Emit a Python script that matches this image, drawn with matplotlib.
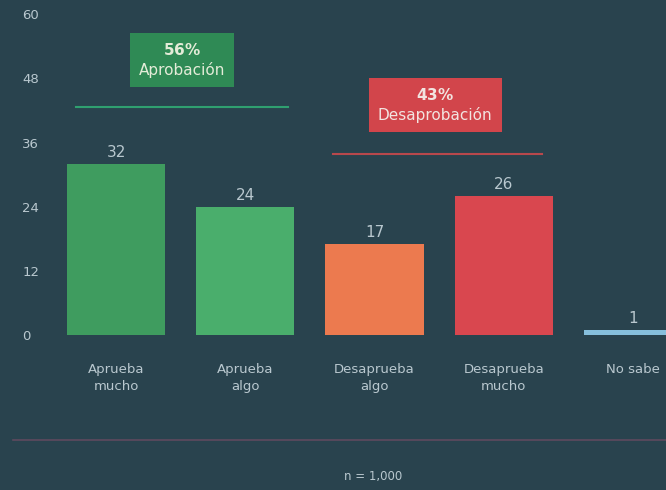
import matplotlib.pyplot as plt

categories = ['Aprueba\nmucho', 'Aprueba\nalgo', 'Desaprueba\nalgo', 'Desaprueba\nmucho', 'No sabe']
values = [32, 24, 17, 26, 1]
y_ticks = [0, 12, 24, 36, 48, 60]
approve_pct = 56
disapprove_pct = 43
approve_text = 'Aprobación'
disapprove_text = 'Desaprobación'
sample_note = 'n = 1,000'

bg = '#29434e'
text_col = '#b9c8cf'
bar_colors = ['#3f9c5f', '#4aae6c', '#ec7a4f', '#d9474f', '#86bfdc']

fig = plt.figure(figsize=(6.66, 4.9), dpi=100, facecolor=bg)
ax = fig.add_axes([0.075, 0.316, 0.925, 0.655])
ax.set_facecolor(bg)

x = list(range(len(categories)))
ax.bar(x, values, width=0.76, color=bar_colors)
for xi, v in zip(x, values):
    ax.text(xi, v + 0.8, str(v), ha='center', va='bottom', color=text_col, fontsize=11)

ax.set_xlim(-0.512, 4.256)
ax.set_ylim(0, 60)
ax.set_yticks(y_ticks)
ax.set_xticks(x)
ax.set_xticklabels(categories, color=text_col, fontsize=9.5, linespacing=1.4)
ax.tick_params(axis='x', length=0, pad=20)
ax.tick_params(axis='y', length=0, colors=text_col, labelsize=9.5, pad=0)
for lbl in ax.get_yticklabels():
    lbl.set_horizontalalignment('left')
    lbl.set_x(-0.045)
for s in ax.spines.values():
    s.set_visible(False)

# group summary boxes and underlines
ax.text(0.51, 51.4, f'$\\mathbf{{{approve_pct}\\%}}$\n{approve_text}', ha='center', va='center',
        color='#e4ecd8', fontsize=11, linespacing=1.3,
        bbox=dict(boxstyle='square,pad=0.6', fc='#2f8a55', ec='none'))
ax.plot([-0.31, 1.33], [42.6, 42.6], color='#2fa070', lw=1.5)
ax.text(2.47, 43.0, f'$\\mathbf{{{disapprove_pct}\\%}}$\n{disapprove_text}', ha='center', va='center',
        color='#f2e4e0', fontsize=11, linespacing=1.3,
        bbox=dict(boxstyle='square,pad=0.6', fc='#d2454b', ec='none'))
ax.plot([1.68, 3.30], [33.8, 33.8], color='#b8484c', lw=1.5)

fig.add_artist(plt.Line2D([0.02, 1.0], [0.102, 0.102], color='#5e4a5e', lw=1.2))
fig.text(0.56, 0.027, sample_note, ha='center', va='center', color=text_col, fontsize=8.5)

fig.savefig('out.png', dpi=100, facecolor=bg)
